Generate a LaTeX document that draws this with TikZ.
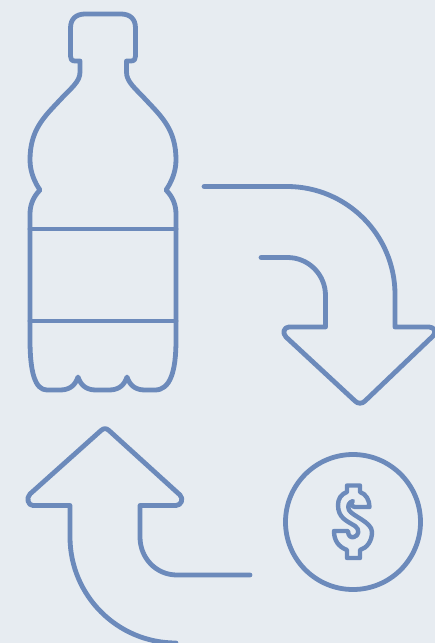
\documentclass[tikz,border=0pt]{standalone}
\definecolor{bgpale}{HTML}{E7ECF1}
\definecolor{iconblue}{HTML}{6C8ABB}
\tikzset{iconline/.style={draw=iconblue,line width=4.8pt,line join=round,line cap=round}}
\begin{document}
\begin{tikzpicture}[x=1pt,y=-1pt]
  \fill[bgpale] (0,0) rectangle (435,643);
  \useasboundingbox (0,0) rectangle (435,643);
  \clip (0,0) rectangle (435,643);
  % bottle
  \draw[iconline] (80,61) -- (75,61) .. controls (71.5,61) and (70.5,59) .. (70.5,56)
     -- (70.5,28) .. controls (70.5,19) and (76,14) .. (85,14)
     -- (121,14) .. controls (130,14) and (135.5,19) .. (135.5,28)
     -- (135.5,56) .. controls (135.5,59) and (134.5,61) .. (131,61) -- (126.5,61)
     -- (126.5,72) .. controls (126.5,82) and (135,88) .. (146,100)
     .. controls (162,117) and (176,130) .. (176,160)
     .. controls (176,172) and (171,183) .. (166,190)
     .. controls (172,196) and (176,204) .. (176,214)
     -- (176,340) .. controls (176,372) and (170,390) .. (155,390)
     -- (145,390) .. controls (136,390) and (130,386) .. (127,377)
     .. controls (124,386) and (118,390) .. (109,390)
     -- (96,390) .. controls (87,390) and (81,386) .. (78,377)
     .. controls (75,386) and (69,390) .. (60,390)
     -- (47,390) .. controls (35,390) and (30,372) .. (30,340)
     -- (30,214) .. controls (30,204) and (34,196) .. (40,190)
     .. controls (35,183) and (30,172) .. (30,160)
     .. controls (30,130) and (44,117) .. (60,100)
     .. controls (71,88) and (80,82) .. (80,72) -- cycle;
  \draw[iconline] (30,229) -- (176,229);
  \draw[iconline] (30,321) -- (176,321);
  % arrow to the coin
  \draw[iconline] (204,186.5) -- (287,186.5) .. controls (346.6,186.5) and (395,234.9) .. (395,294.5) -- (395,327)
     -- (429,327) .. controls (434,327) and (437,332) .. (433,336)
     -- (365,401) .. controls (362,404) and (358,404) .. (355,401)
     -- (286,337) .. controls (282,333) and (284,327) .. (289,327)
     -- (325.5,327) -- (325.5,295.5) .. controls (325.5,274.5) and (308.5,257.5) .. (287.5,257.5) -- (261,257.5);
  % arrow back to the bottle
  \draw[iconline] (250,575) -- (177,575) .. controls (156,575) and (140,558) .. (140,537) -- (140,505.5)
     -- (176,505.5) .. controls (181,505.5) and (184,499) .. (180,495)
     -- (109,430.5) .. controls (106,428) and (104,428) .. (101,430.5)
     -- (30,494) .. controls (26,498) and (28,505.5) .. (33,505.5)
     -- (70,505.5) -- (70,537) .. controls (70,595.5) and (117.5,643) .. (176,643);
  % coin
  \node[circle,iconline,minimum size=135pt,inner sep=0pt] (coin) at (353,522) {};
  \draw[iconline,line width=4.4pt] (347,485.5) -- (360,485.5) -- (360,492)
     .. controls (366,494) and (369.5,500) .. (369.5,507) -- (355,507)
     .. controls (352,507) and (350,503) .. (353,501)
     .. controls (349,502) and (347,506) .. (349,510)
     .. controls (352,516) and (372,522) .. (372,532)
     .. controls (372,541) and (367,548) .. (360,550) -- (360,558) -- (347,558) -- (347,550)
     .. controls (339,547) and (334,541) .. (334,531) -- (348,531)
     .. controls (348,536) and (351,538) .. (354,537)
     .. controls (359,536) and (360,529) .. (355,526)
     .. controls (347,521) and (338,518) .. (338,505)
     .. controls (338,499) and (341,494) .. (347,492) -- cycle;
\end{tikzpicture}
\end{document}
